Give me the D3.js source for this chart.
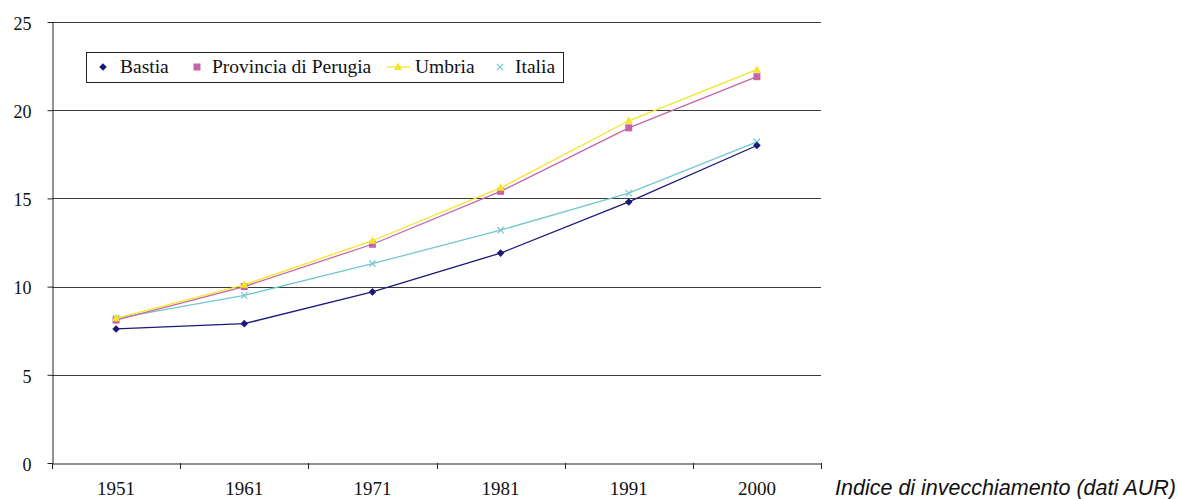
<!DOCTYPE html>
<html><head><meta charset="utf-8">
<script src="https://cdn.jsdelivr.net/npm/d3@7"></script>
<style>body{margin:0;background:#fff}svg{display:block}</style>
</head><body><svg id="c" width="1178" height="499"></svg>
<script>
const years = ["1951","1961","1971","1981","1991","2000"];
const bastia = [7.6, 7.9, 9.7, 11.9, 14.8, 18.0];
const perugia = [8.1, 10.0, 12.4, 15.4, 19.0, 21.9];
const umbria = [8.2, 10.1, 12.6, 15.6, 19.4, 22.3];
const italia = [8.2, 9.5, 11.3, 13.2, 15.3, 18.2];
const yTicks = [0, 5, 10, 15, 20, 25];
const seriesNames = ["Bastia", "Provincia di Perugia", "Umbria", "Italia"];
const caption = "Indice di invecchiamento (dati AUR)";

const series = [
  {name: seriesNames[0], values: bastia, color: "#1c1878", marker: "diamond"},
  {name: seriesNames[1], values: perugia, color: "#c565a8", marker: "square"},
  {name: seriesNames[2], values: umbria, color: "#f2e627", marker: "triangle"},
  {name: seriesNames[3], values: italia, color: "#72c8cc", marker: "cross"}
];

const svg = d3.select("#c");
const L = 52, R = 821, T = 22, B = 463;
const x = d3.scaleBand().domain(years).range([L, R]);
const y = d3.scaleLinear().domain([0, 25]).range([B, T]);
const serif = "Liberation Serif, Times New Roman, serif";

// gridlines
svg.append("g").selectAll("line").data(yTicks.filter(d => d > 0)).join("line")
  .attr("x1", L).attr("x2", R)
  .attr("y1", d => Math.round(y(d)) + 0.5).attr("y2", d => Math.round(y(d)) + 0.5)
  .attr("stroke", "#3a3a3a").attr("stroke-width", 1);

// y axis
const ya = svg.append("g").attr("transform", `translate(${L + 0.5},0)`)
  .call(d3.axisLeft(y).tickValues(yTicks).tickSize(5).tickSizeOuter(0).tickPadding(16));
ya.select(".domain").attr("stroke", "#222");
ya.selectAll(".tick line").attr("stroke", "#222");
ya.selectAll("text").attr("font-family", serif).attr("font-size", 18).attr("fill", "#111").attr("dy", "0.4em");

// x axis
const xa = svg.append("g").attr("transform", `translate(0,${B + 0.5})`)
  .call(d3.axisBottom(x).tickSize(0).tickSizeOuter(0).tickPadding(18));
xa.select(".domain").attr("stroke", "#222");
xa.selectAll("text").attr("font-family", serif).attr("font-size", 19).attr("fill", "#111")
  .attr("dy", "0.71em");
const bounds = years.map(d => x(d)).concat([R]);
svg.append("g").selectAll("line").data(bounds).join("line")
  .attr("x1", d => Math.round(d) + 0.5).attr("x2", d => Math.round(d) + 0.5)
  .attr("y1", B).attr("y2", B + 6).attr("stroke", "#222");

function drawMarker(g, type, color, cx, cy) {
  if (type === "diamond") {
    g.append("path").attr("d", `M${cx},${cy-3.8}L${cx+3.8},${cy}L${cx},${cy+3.8}L${cx-3.8},${cy}Z`).attr("fill", color);
  } else if (type === "square") {
    g.append("rect").attr("x", cx-3.5).attr("y", cy-3.5).attr("width", 7).attr("height", 7).attr("fill", color);
  } else if (type === "triangle") {
    g.append("path").attr("d", `M${cx},${cy-4.5}L${cx+4},${cy+3}L${cx-4},${cy+3}Z`).attr("fill", color);
  } else {
    g.append("path").attr("d", `M${cx-3.2},${cy-3.2}L${cx+3.2},${cy+3.2}M${cx+3.2},${cy-3.2}L${cx-3.2},${cy+3.2}`).attr("stroke", color).attr("stroke-width", 1.2);
  }
}

const cxOf = d => x(d) + x.bandwidth() / 2;
const line = d3.line().x((d, i) => cxOf(years[i])).y(d => y(d));
[series[3], series[1], series[2], series[0]].forEach(s => {
  const g = svg.append("g");
  g.append("path").attr("d", line(s.values)).attr("fill", "none")
    .attr("stroke", s.color).attr("stroke-width", 1.3);
  s.values.forEach((v, i) => drawMarker(g, s.marker, s.color, cxOf(years[i]), y(v)));
});

// legend
const lg = svg.append("g");
lg.append("rect").attr("x", 86.5).attr("y", 52.5).attr("width", 477).attr("height", 30)
  .attr("fill", "#fff").attr("stroke", "#222");
const ly = 67;
const items = [
  {s: series[0], mx: 103, tx: 120},
  {s: series[1], mx: 197, tx: 212},
  {s: series[2], mx: 398, tx: 415, line: [387, 410]},
  {s: series[3], mx: 500, tx: 515}
];
items.forEach(it => {
  if (it.line) lg.append("line").attr("x1", it.line[0]).attr("x2", it.line[1]).attr("y1", ly).attr("y2", ly)
    .attr("stroke", it.s.color).attr("stroke-width", 1.3);
  drawMarker(lg, it.s.marker, it.s.color, it.mx, ly);
  lg.append("text").attr("x", it.tx).attr("y", 72.5).attr("font-family", serif).attr("font-size", 19.5)
    .attr("fill", "#111").text(it.s.name);
});

svg.append("text").attr("x", 1176).attr("y", 495).attr("text-anchor", "end")
  .attr("font-family", "Liberation Sans, Arial, sans-serif").attr("font-style", "italic")
  .attr("font-size", 21.5).attr("fill", "#111").text(caption);
</script></body></html>
